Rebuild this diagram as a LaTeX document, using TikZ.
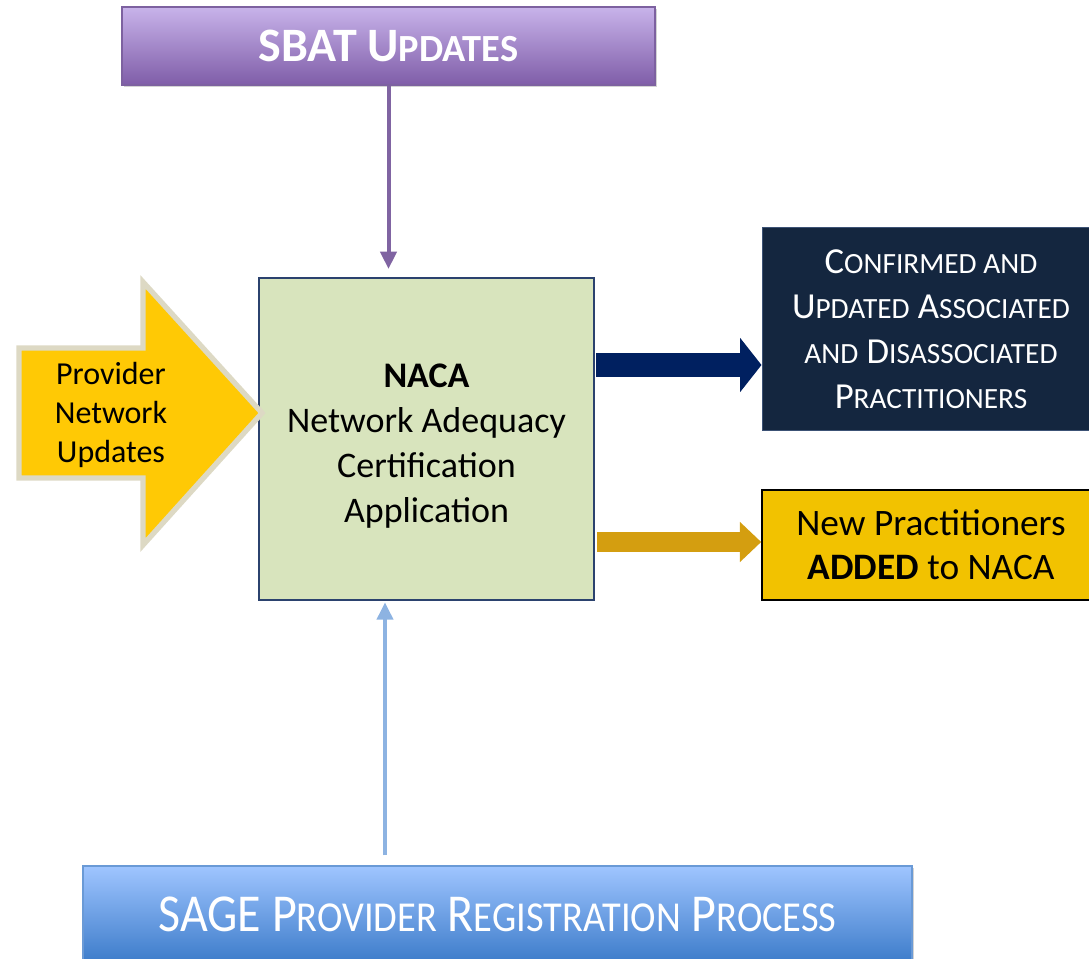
\documentclass[tikz,border=0pt]{standalone}
\usepackage{fontspec}
\usepackage{graphicx}
\setmainfont{Carlito}
\usetikzlibrary{arrows.meta,shadows}
\definecolor{sbatTop}{HTML}{C8B3EA}
\definecolor{sbatBottom}{HTML}{7F5DA8}
\definecolor{sbatEdge}{HTML}{7D61A0}
\definecolor{nacaFill}{HTML}{D8E4BD}
\definecolor{nacaEdge}{HTML}{2B426E}
\definecolor{provFill}{HTML}{FFC905}
\definecolor{provEdge}{HTML}{DDD9C4}
\definecolor{navyFill}{HTML}{14263F}
\definecolor{navyEdge}{HTML}{3C5275}
\definecolor{navyArrow}{HTML}{002060}
\definecolor{goldFill}{HTML}{F2C200}
\definecolor{goldArrow}{HTML}{D49E10}
\definecolor{sageTop}{HTML}{9FC5FF}
\definecolor{sageBottom}{HTML}{3D7CCA}
\definecolor{sageEdge}{HTML}{6A9AD6}
\definecolor{sageArrow}{HTML}{8DB3E2}
\definecolor{sbatArrow}{HTML}{8064A2}
\newcommand\smallcap[1]{\scalebox{0.8}{#1}}

\begin{document}
\begin{tikzpicture}[x=0.75pt,y=-0.75pt,
    box/.style={rectangle,inner sep=0pt,align=center},
    thinarrow/.style={line width=3pt,-{Triangle[width=12pt,length=13pt]}},
    blockarrow/.style={-{Triangle[width=#1,length=16pt]}},
    softshadow/.style={drop shadow={opacity=0.35,shadow xshift=1.5pt,shadow yshift=-1.5pt}}]
    \useasboundingbox (0,0) rectangle (1089,959);
    \node[box,softshadow,draw=sbatEdge,line width=1pt,top color=sbatTop,bottom color=sbatBottom,
        minimum width=399.75pt,minimum height=58.5pt,text=white,
        font=\fontsize{36}{42}\selectfont\bfseries] (sbat) at (388.5,46) {SBAT U\smallcap{PDATES}};
    \node[box,draw=nacaEdge,line width=1.5pt,fill=nacaFill,minimum width=251.25pt,minimum height=241.5pt] (naca) at (426.5,439) {};
    \node[align=center,font=\fontsize{27}{33.75}\selectfont] (nacatext) at ([yshift=-5pt]naca.center)
        {\textbf{NACA}\\Network Adequacy\\Certification\\Application};
    \node[box,draw=navyEdge,line width=0.75pt,fill=navyFill,minimum width=253.5pt,minimum height=151.5pt,
        text=white,font=\fontsize{27.5}{33.75}\selectfont] (navy) at (931,329)
        {C\smallcap{ONFIRMED AND}\\U\smallcap{PDATED} A\smallcap{SSOCIATED}\\\smallcap{AND} D\smallcap{ISASSOCIATED}\\P\smallcap{RACTITIONERS}};
    \node[box,draw=black,line width=1.2pt,fill=goldFill,minimum width=253.5pt,minimum height=82.5pt,
        font=\fontsize{28}{33}\selectfont] (gold) at (931,545)
        {New Practitioners\\\textbf{ADDED} to NACA};
    \node[box,softshadow,draw=sageEdge,line width=1pt,top color=sageTop,bottom color=sageBottom,
        minimum width=621.75pt,minimum height=72pt,text=white,
        font=\fontsize{40}{46}\selectfont] (sage) at (497.5,914)
        {\scalebox{0.9}[1]{SAGE P\smallcap{ROVIDER} R\smallcap{EGISTRATION} P\smallcap{ROCESS}}};
    \draw[draw=provEdge,fill=provFill,line width=4pt,line join=miter]
        (19,348) -- (143,348) -- (143,282) -- (262,413) -- (143,545) -- (143,478) -- (19,478) -- cycle;
    \node[font=\fontsize{24}{29.25}\selectfont,align=center] (prov) at (111,415) {Provider\\Network\\Updates};
    \draw[thinarrow,sbatArrow,shorten >=6pt] (sbat.south) -- (sbat.south |- naca.north);
    \coordinate (sagein) at (385,866);
    \draw[thinarrow,sageArrow,shorten <=8pt,shorten >=1pt] (sagein) -- (sagein |- naca.south);
    \coordinate (navyout) at (596,365);
    \draw[blockarrow=39.75pt,navyArrow,line width=18pt] (navyout) -- (navyout -| navy.west);
    \coordinate (goldout) at (597,542);
    \draw[blockarrow=29.25pt,goldArrow,line width=15pt] (goldout) -- (goldout -| gold.west);
\end{tikzpicture}
\end{document}
